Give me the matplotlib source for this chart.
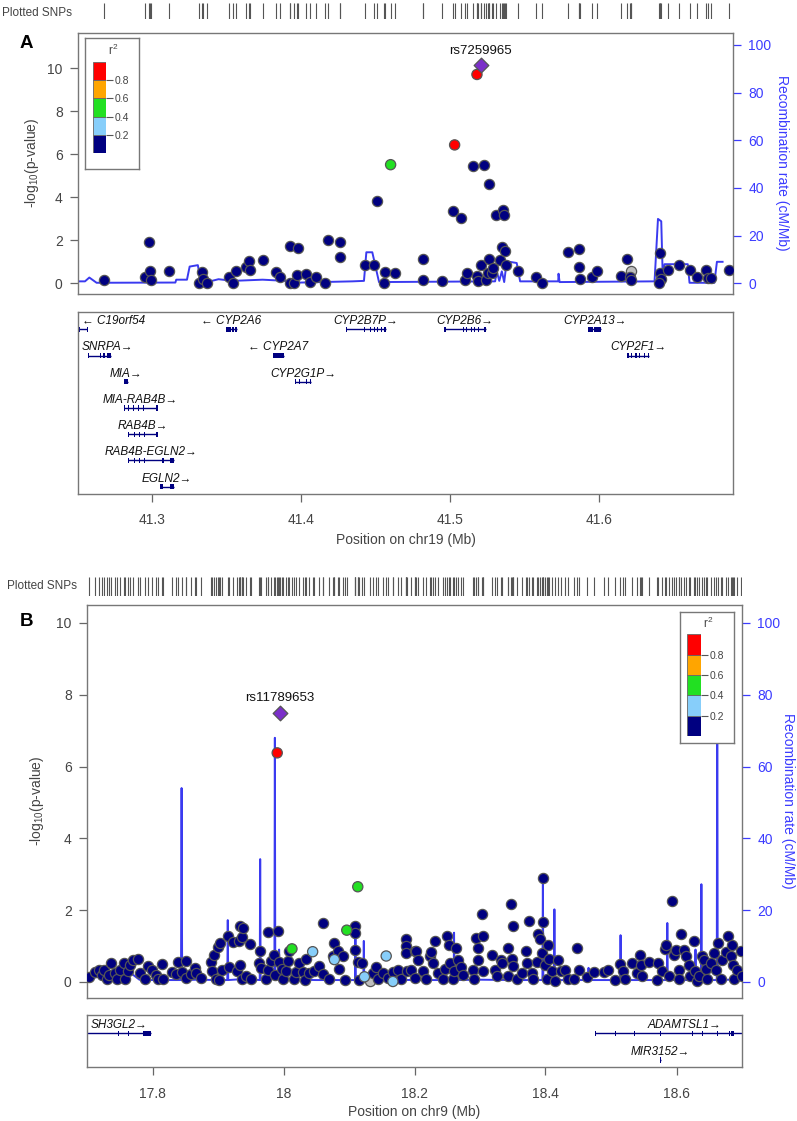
import matplotlib
matplotlib.use('Agg')
import matplotlib.pyplot as plt
import numpy as np
from matplotlib.patches import Rectangle
from matplotlib.ticker import FuncFormatter

plt.rcParams['font.family'] = ['Liberation Sans', 'DejaVu Sans']
plt.rcParams['mathtext.fontset'] = 'custom'
plt.rcParams['mathtext.rm'] = 'Liberation Sans'
plt.rcParams['mathtext.it'] = 'Liberation Sans:italic'

# ---------------- Panel A: chr19 ----------------
a_pos = [41.2674, 41.2953, 41.2975, 41.2986, 41.2993, 41.3110, 41.3310, 41.3330, 41.3340, 41.3368,
         41.3517, 41.3540, 41.3560, 41.3630, 41.3647, 41.3656, 41.3740, 41.3830, 41.3860, 41.3924,
         41.3926, 41.3954, 41.3970, 41.3980, 41.4030, 41.4060, 41.4098, 41.4160, 41.4180, 41.4258,
         41.4262, 41.4428, 41.4490, 41.4510, 41.4560, 41.4557, 41.4628, 41.4818, 41.4818, 41.4945,
         41.5017, 41.5075, 41.5097, 41.5110, 41.5153, 41.5180, 41.5190, 41.5210, 41.5226, 41.5240,
         41.5253, 41.5264, 41.5264, 41.5280, 41.5290, 41.5306, 41.5335, 41.5346, 41.5356, 41.5364,
         41.5369, 41.5376, 41.5458, 41.5574, 41.5614, 41.5793, 41.5865, 41.5867, 41.5873, 41.5950,
         41.5987, 41.6146, 41.6190, 41.6208, 41.6217, 41.6407, 41.6407, 41.6414, 41.6403, 41.6463,
         41.6534, 41.6608, 41.6659, 41.6719, 41.6730, 41.6752, 41.6875]
a_logp = [0.16, 0.28, 1.90, 0.59, 0.13, 0.59, 0.03, 0.51, 0.20, 0.03,
          0.28, 0.03, 0.59, 0.75, 1.03, 0.62, 1.06, 0.53, 0.31, 1.72,
          0.03, 0.03, 0.37, 1.62, 0.44, 0.05, 0.28, 0.03, 2.03, 1.90,
          1.24, 0.86, 0.84, 3.85, 0.53, 0.03, 0.47, 1.12, 0.17, 0.10,
          3.36, 3.05, 0.17, 0.47, 5.44, 0.36, 0.12, 0.83, 5.52, 0.14,
          0.50, 4.60, 1.14, 0.50, 0.69, 3.19, 1.06, 1.71, 3.39, 3.20,
          1.49, 0.83, 0.56, 0.28, 0.03, 1.45, 1.58, 0.75, 0.20, 0.31,
          0.56, 0.36, 1.14, 0.28, 0.16, 1.40, 0.50, 0.20, 0.03, 0.61,
          0.84, 0.64, 0.28, 0.61, 0.23, 0.23, 0.64]
# SNPs with r2 above the lowest bin (nan = no LD information)
a_ld_pos = [41.6217, 41.4600, 41.5030, 41.5180]
a_ld_logp = [0.56, 5.52, 6.44, 9.72]
a_ld_r2 = [np.nan, 0.5, 0.9, 0.9]
a_lead = ('rs7259965', 41.5206, 10.15)

a_rec_pos = [41.2500, 41.2547, 41.2576, 41.2625, 41.3154, 41.3160, 41.3232, 41.3250, 41.3305, 41.3317,
             41.3361, 41.3444, 41.3540, 41.3740, 41.3897, 41.3930, 41.4343, 41.4421, 41.4437, 41.4477,
             41.4495, 41.4522, 41.5302, 41.5313, 41.5330, 41.5347, 41.5363, 41.5380, 41.5447, 41.5470,
             41.5726, 41.5728, 41.5735, 41.6373, 41.6396, 41.6418, 41.6429, 41.6440, 41.6596, 41.6608,
             41.6775, 41.6792, 41.6830]
a_rec_rate = [0.8, 0.8, 2.4, 0.2, 0.3, 1.5, 1.5, 7.0, 7.6, 3.5,
              0.4, 1.7, 1.0, 1.5, 1.0, 0.2, 0.8, 1.0, 13.0, 13.0,
              8.0, 0.5, 0.8, 5.0, 1.0, 5.0, 0.5, 9.2, 8.5, 0.8,
              0.8, 4.0, 0.5, 0.8, 27.0, 26.0, 0.5, 8.0, 8.0, 0.2,
              0.2, 9.0, 9.0]

a_gene_names = ['C19orf54', 'SNRPA', 'MIA', 'MIA-RAB4B', 'RAB4B', 'RAB4B-EGLN2', 'EGLN2',
                'CYP2A6', 'CYP2A7', 'CYP2G1P', 'CYP2B7P', 'CYP2B6', 'CYP2A13', 'CYP2F1']
a_gene_start = [41.2502, 41.2569, 41.2808, 41.2808, 41.2837, 41.2837, 41.3049,
                41.3495, 41.3807, 41.3959, 41.4298, 41.4961, 41.5927, 41.6190]
a_gene_end = [41.2562, 41.2719, 41.2835, 41.3031, 41.3031, 41.3145, 41.3145,
              41.3566, 41.3886, 41.4064, 41.4566, 41.5240, 41.6016, 41.6333]
a_gene_strand = ['-', '+', '+', '+', '+', '+', '+', '-', '-', '+', '+', '+', '+', '+']
a_gene_row = [1, 2, 3, 4, 5, 6, 7, 1, 2, 3, 1, 1, 1, 2]
a_gene_exons = [
    [(41.2502, 41.2512), (41.2558, 41.2562)],
    [(41.2569, 41.2572), (41.2648, 41.2652), (41.2670, 41.2674), (41.2698, 41.2719)],
    [(41.2808, 41.2835)],
    [(41.2808, 41.2812), (41.2833, 41.2837), (41.2868, 41.2872), (41.2903, 41.2907), (41.2938, 41.2942), (41.3027, 41.3031)],
    [(41.2837, 41.2841), (41.2873, 41.2877), (41.2908, 41.2912), (41.2943, 41.2947), (41.3027, 41.3031)],
    [(41.2837, 41.2841), (41.2873, 41.2877), (41.2908, 41.2912), (41.2943, 41.2947), (41.3065, 41.3075), (41.3120, 41.3145)],
    [(41.3049, 41.3072), (41.3120, 41.3145)],
    [(41.3495, 41.3526), (41.3532, 41.3546), (41.3552, 41.3566)],
    [(41.3807, 41.3886)],
    [(41.3959, 41.3966), (41.3982, 41.3988), (41.4032, 41.4038), (41.4056, 41.4064)],
    [(41.4298, 41.4302), (41.4423, 41.4428), (41.4462, 41.4467), (41.4487, 41.4492), (41.4508, 41.4513), (41.4533, 41.4538), (41.4556, 41.4566)],
    [(41.4961, 41.4965), (41.5083, 41.5088), (41.5108, 41.5113), (41.5138, 41.5143), (41.5158, 41.5163), (41.5188, 41.5193), (41.5228, 41.5240)],
    [(41.5927, 41.5960), (41.5966, 41.6016)],
    [(41.6190, 41.6196), (41.6212, 41.6218), (41.6245, 41.6258), (41.6266, 41.6274), (41.6302, 41.6308), (41.6327, 41.6333)],
]

# ---------------- Panel B: chr9 ----------------
b_pos = [17.7026, 17.7127, 17.7178, 17.7230, 17.7255, 17.7306, 17.7340, 17.7370, 17.7424, 17.7460,
         17.7510, 17.7560, 17.7587, 17.7628, 17.7664, 17.7704, 17.7780, 17.7816, 17.7880, 17.7934,
         17.7995, 17.8047, 17.8088, 17.8138, 17.8158, 17.8291, 17.8352, 17.8393, 17.8455, 17.8505,
         17.8505, 17.8582, 17.8648, 17.8669, 17.8735, 17.8890, 17.8904, 17.8940, 17.8965, 17.9006,
         17.9027, 17.9057, 17.9016, 17.9159, 17.9170, 17.9230, 17.9297, 17.9322, 17.9333, 17.9333,
         17.9363, 17.9383, 17.9373, 17.9424, 17.9485, 17.9500, 17.9628, 17.9638, 17.9653, 17.9731,
         17.9756, 17.9756, 17.9806, 17.9857, 17.9873, 17.9909, 17.9934, 17.9975, 17.9996, 18.0037,
         18.0062, 18.0088, 18.0165, 18.0190, 18.0242, 18.0292, 18.0344, 18.0333, 18.0394, 18.0470,
         18.0547, 18.0598, 18.0609, 18.0700, 18.0752, 18.0767, 18.0828, 18.0844, 18.0915, 18.0946,
         18.1084, 18.1099, 18.1099, 18.1134, 18.1160, 18.1200, 18.1364, 18.1415, 18.1440, 18.1517,
         18.1594, 18.1670, 18.1747, 18.1798, 18.1864, 18.1864, 18.1864, 18.1885, 18.1951, 18.2002,
         18.2002, 18.2028, 18.2053, 18.2130, 18.2181, 18.2232, 18.2257, 18.2283, 18.2319, 18.2359,
         18.2436, 18.2461, 18.2502, 18.2523, 18.2538, 18.2589, 18.2604, 18.2640, 18.2666, 18.2717,
         18.2742, 18.2895, 18.2910, 18.2946, 18.2962, 18.2962, 18.3023, 18.3049, 18.3049, 18.3186,
         18.3227, 18.3253, 18.3319, 18.3340, 18.3421, 18.3431, 18.3472, 18.3482, 18.3508, 18.3508,
         18.3559, 18.3635, 18.3697, 18.3712, 18.3748, 18.3789, 18.3814, 18.3865, 18.3880, 18.3916,
         18.3957, 18.3967, 18.3952, 18.3993, 18.4018, 18.4044, 18.4054, 18.4095, 18.4146, 18.4197,
         18.4238, 18.4299, 18.4350, 18.4442, 18.4478, 18.4514, 18.4631, 18.4733, 18.4886, 18.4952,
         18.5065, 18.5141, 18.5177, 18.5218, 18.5320, 18.5397, 18.5448, 18.5463, 18.5473, 18.5585,
         18.5703, 18.5718, 18.5779, 18.5820, 18.5841, 18.5882, 18.5933, 18.5958, 18.5994, 18.6035,
         18.6035, 18.6075, 18.6112, 18.6147, 18.6188, 18.6213, 18.6264, 18.6290, 18.6315, 18.6351,
         18.6392, 18.6417, 18.6443, 18.6469, 18.6520, 18.6571, 18.6596, 18.6637, 18.6673, 18.6698,
         18.6749, 18.6790, 18.6826, 18.6841, 18.6862, 18.6877, 18.6928, 18.6979, 18.6994]
b_logp = [0.14, 0.27, 0.33, 0.20, 0.34, 0.08, 0.18, 0.53, 0.25, 0.07,
          0.33, 0.53, 0.07, 0.30, 0.46, 0.60, 0.64, 0.25, 0.07, 0.44,
          0.33, 0.18, 0.07, 0.49, 0.08, 0.27, 0.21, 0.55, 0.27, 0.57,
          0.12, 0.23, 0.38, 0.25, 0.12, 0.55, 0.29, 0.76, 0.08, 0.98,
          1.09, 0.33, 0.04, 1.29, 0.42, 1.11, 0.30, 1.14, 1.55, 0.48,
          1.26, 1.51, 0.07, 0.16, 1.06, 0.08, 0.53, 0.86, 0.39, 0.07,
          1.39, 0.33, 0.57, 0.75, 0.18, 1.43, 0.55, 0.36, 0.07, 0.30,
          0.57, 0.86, 0.07, 0.27, 0.53, 0.27, 0.64, 0.05, 0.25, 0.30,
          0.44, 1.65, 0.23, 0.07, 0.72, 1.07, 0.86, 0.36, 0.72, 0.05,
          1.57, 1.37, 0.90, 0.55, 0.05, 0.53, 0.25, 0.42, 0.07, 0.25,
          0.11, 0.27, 0.34, 0.07, 1.20, 1.00, 0.79, 0.30, 0.33, 0.86,
          0.11, 0.86, 0.62, 0.30, 0.07, 0.72, 0.83, 0.53, 1.14, 0.25,
          0.07, 0.36, 1.29, 1.04, 0.53, 0.07, 0.30, 0.95, 0.62, 0.42,
          0.18, 0.34, 0.07, 1.23, 0.95, 0.62, 1.88, 1.29, 0.30, 0.76,
          0.33, 0.16, 0.60, 0.53, 0.95, 0.16, 2.18, 0.64, 1.57, 0.44,
          0.08, 0.25, 0.86, 0.53, 1.69, 0.25, 0.07, 0.55, 1.32, 1.18,
          1.67, 2.90, 0.81, 0.48, 0.07, 1.04, 0.64, 0.30, 0.02, 0.60,
          0.30, 0.34, 0.08, 0.08, 0.95, 0.33, 0.14, 0.27, 0.27, 0.33,
          0.05, 0.51, 0.30, 0.08, 0.53, 0.25, 0.74, 0.48, 0.16, 0.55,
          0.05, 0.53, 0.30, 0.92, 1.04, 0.16, 2.25, 0.74, 0.88, 0.34,
          0.07, 1.32, 0.90, 0.72, 0.48, 0.16, 1.14, 0.30, 0.02, 0.16,
          0.72, 0.60, 0.36, 0.08, 0.53, 0.81, 0.33, 1.07, 0.07, 0.62,
          0.83, 1.28, 0.72, 1.04, 0.48, 0.08, 0.34, 0.86, 0.16]
b_ld_pos = [18.1313, 18.0445, 18.0777, 18.1236, 18.1568, 18.1670, 18.0129, 18.0966, 18.1134, 17.9904]
b_ld_logp = [0.01, 0.84, 0.62, 0.14, 0.72, 0.01, 0.92, 1.44, 2.65, 6.38]
b_ld_r2 = [np.nan, 0.3, 0.3, 0.3, 0.3, 0.3, 0.5, 0.5, 0.5, 0.9]
b_lead = ('rs11789653', 17.9940, 7.50)

b_rec_pos = [17.700, 17.720, 17.740, 17.757, 17.770, 17.780, 17.800, 17.8435, 17.8444, 17.8453,
             17.870, 17.900, 17.9142, 17.9149, 17.9156, 17.940, 17.9637, 17.9644, 17.9651, 17.980,
             17.9861, 17.9868, 17.9875, 17.9928, 17.9933, 17.9940, 18.020, 18.050, 18.1091, 18.1098,
             18.1105, 18.1219, 18.1226, 18.1233, 18.150, 18.200, 18.2597, 18.2604, 18.2611, 18.300,
             18.350, 18.3953, 18.3960, 18.3967, 18.4129, 18.4136, 18.4143, 18.4650, 18.4657, 18.4664,
             18.5139, 18.5146, 18.5153, 18.5853, 18.5860, 18.5867, 18.6283, 18.6290, 18.6297, 18.6373,
             18.6380, 18.6387, 18.6615, 18.6622, 18.6629, 18.680, 18.700]
b_rec_rate = [0.8, 1.5, 0.8, 2.5, 2.0, 0.6, 0.5, 0.5, 54.0, 0.5,
              0.6, 0.5, 0.5, 17.2, 0.5, 0.8, 0.5, 34.2, 0.5, 0.8,
              0.8, 68.0, 0.8, 0.8, 9.0, 0.8, 0.6, 0.5, 0.5, 15.0,
              0.5, 0.5, 11.4, 0.5, 0.6, 0.5, 0.5, 13.7, 0.5, 0.6,
              0.5, 0.5, 29.0, 0.5, 0.5, 20.2, 0.5, 0.5, 3.9, 0.5,
              0.5, 13.0, 0.5, 0.5, 16.4, 0.5, 0.5, 9.0, 0.5, 0.5,
              27.2, 0.5, 0.5, 95.0, 0.5, 0.6, 0.5]

b_gene_names = ['SH3GL2', 'ADAMTSL1', 'MIR3152']
b_gene_start = [17.650, 18.4758, 18.5750]
b_gene_end = [17.7980, 18.7500, 18.5756]
b_gene_strand = ['+', '+', '+']
b_gene_row = [1, 1, 2]
b_gene_exons = [
    [(17.7466, 17.7472), (17.7619, 17.7625), (17.7858, 17.7980)],
    [(18.4755, 18.4761), (18.5061, 18.5067), (18.5352, 18.5358), (18.5750, 18.5756), (18.6236, 18.6242),
     (18.6389, 18.6395), (18.6619, 18.6625), (18.6797, 18.6803), (18.6837, 18.6843), (18.6867, 18.6873)],
    [(18.5750, 18.5756)],
]

LD_EDGES = [0.0, 0.2, 0.4, 0.6, 0.8, 1.0]
LD_COLORS = ['#000080', '#87CEFA', '#22E022', '#FFA500', '#FF0000']
REC_BLUE = '#3a3af0'
AXIS_BLUE = '#3b3bff'
GRAY_TXT = '#444444'
NAVY = '#000080'

W, H = 797, 1121
fig = plt.figure(figsize=(W / 100, H / 100), dpi=100)


def rect(x0, y0, x1, y1):
    return [x0 / W, 1 - y1 / H, (x1 - x0) / W, (y1 - y0) / H]


def ld_color(r):
    if np.isnan(r):
        return '#BEBEBE'
    i = int(np.searchsorted(LD_EDGES, r, side='right')) - 1
    return LD_COLORS[min(i, len(LD_COLORS) - 1)]


def add_legend(box, bars):
    fr = fig.add_axes(rect(*box), zorder=10)
    fr.set_facecolor('white')
    fr.set_xticks([]); fr.set_yticks([])
    for s in fr.spines.values():
        s.set_color('#777777'); s.set_linewidth(1)
    fr.text(0.52, 1 - 12 / (box[3] - box[1]), 'r$^2$', transform=fr.transAxes,
            ha='center', va='center', fontsize=8.5, color=GRAY_TXT)
    lg = fig.add_axes(rect(*bars), zorder=11)
    lg.bar(0.5, np.diff(LD_EDGES), bottom=LD_EDGES[:-1], width=1, color=LD_COLORS,
           edgecolor='#666666', linewidth=0.6)
    lg.set_xlim(0, 1); lg.set_ylim(0, 1)
    lg.set_xticks([])
    lg.set_yticks(LD_EDGES[1:-1])
    lg.yaxis.tick_right()
    lg.tick_params(axis='y', length=5, width=0.8, color='#555555', pad=1.5,
                   labelsize=7.5, labelcolor=GRAY_TXT)
    for s in lg.spines.values():
        s.set_visible(False)


def draw_panel(L, pos, logp, ld_pos, ld_logp, ld_r2, lead, rec_pos, rec_rate,
               names, starts, ends, strands, rows, exons):
    xlim, ylim = L['xlim'], L['ylim']

    # plotted SNPs rug
    rx = fig.add_axes(rect(*L['rug']))
    all_pos = list(pos) + list(ld_pos) + [lead[1]]
    rx.vlines(all_pos, 0, 1, color='#555555', linewidth=0.8)
    rx.set_xlim(xlim); rx.set_ylim(0, 1)
    rx.axis('off')
    fig.text(L['rug_txt'][0] / W, 1 - L['rug_txt'][1] / H, 'Plotted SNPs',
             ha='left', va='center', fontsize=8.5, color=GRAY_TXT)

    # association plot
    ax = fig.add_axes(rect(*L['main']))
    ax.set_xlim(xlim); ax.set_ylim(ylim)
    scale = ylim[1] / 105.0
    ax.plot(rec_pos, np.array(rec_rate) * scale, color=REC_BLUE, lw=1.4, zorder=1)
    order = sorted(range(len(ld_r2)), key=lambda i: -1 if np.isnan(ld_r2[i]) else ld_r2[i])
    gray_first = [i for i in order if np.isnan(ld_r2[i])]
    rest = [i for i in order if not np.isnan(ld_r2[i])]
    kw = dict(s=54, edgecolors='#555555', linewidths=0.9)
    ax.scatter([ld_pos[i] for i in gray_first], [ld_logp[i] for i in gray_first],
               c=[ld_color(ld_r2[i]) for i in gray_first], zorder=3, **kw)
    ax.scatter(pos, logp, c=LD_COLORS[0], zorder=4, **kw)
    ax.scatter([ld_pos[i] for i in rest], [ld_logp[i] for i in rest],
               c=[ld_color(ld_r2[i]) for i in rest], zorder=5, **kw)
    ax.scatter([lead[1]], [lead[2]], marker='D', s=56, c='#7B2FC9',
               edgecolors='#555555', linewidths=0.9, zorder=6)
    ax.annotate(lead[0], (lead[1], lead[2]), xytext=(0, 6), textcoords='offset points',
                ha='center', va='bottom', fontsize=9.5, color='#111111')
    ax.set_xticks([])
    ax.set_yticks(range(0, 11, 2))
    ax.tick_params(axis='y', length=6, width=0.9, color='#666666', pad=5,
                   labelsize=10, labelcolor=GRAY_TXT)
    for s in ax.spines.values():
        s.set_color('#777777'); s.set_linewidth(1)
    sec = ax.secondary_yaxis('right', functions=(lambda y: y / scale, lambda r: r * scale))
    sec.set_yticks(range(0, 101, 20))
    sec.tick_params(axis='y', length=6, width=0.9, color=AXIS_BLUE, pad=5,
                    labelsize=10, labelcolor=AXIS_BLUE)
    sec.spines['right'].set_visible(False)
    fig.text(L['ylab'][0] / W, 1 - L['ylab'][1] / H, '-log$_{10}$(p-value)', rotation=90,
             ha='center', va='center', fontsize=10, color=GRAY_TXT)
    fig.text(L['rlab'][0] / W, 1 - L['rlab'][1] / H, 'Recombination rate (cM/Mb)', rotation=-90,
             ha='center', va='center', fontsize=10, color=AXIS_BLUE)
    fig.text(L['letter'][0] / W, 1 - L['letter'][1] / H, L['name'], ha='left', va='center',
             fontsize=13.5, fontweight='bold', color='black')

    # gene track
    gx = fig.add_axes(rect(*L['genes']))
    gx.set_xlim(xlim); gx.set_ylim(L['gene_ylim'])
    minw = (xlim[1] - xlim[0]) / 655 * 1.2
    labels = []
    for name, st, en, strand, row, ex in zip(names, starts, ends, strands, rows, exons):
        gx.plot([st, en], [row, row], color=NAVY, lw=1.0, solid_capstyle='butt')
        for es, ee in ex:
            gx.add_patch(Rectangle((es, row - 0.1), max(ee - es, minw), 0.2,
                                   facecolor=NAVY, edgecolor='none'))
        txt = name + '\u2192' if strand == '+' else '\u2190 ' + name
        labels.append(gx.text((st + en) / 2, row - 0.31, txt, ha='center', va='center',
                              fontsize=8.5, style='italic', color='#111111'))
    gx.set_yticks([])
    gx.set_xticks(L['xticks'])
    gx.xaxis.set_major_formatter(FuncFormatter(lambda v, p: '%g' % round(v, 3)))
    gx.tick_params(axis='x', length=6, width=0.9, color='#666666', pad=8,
                   labelsize=10, labelcolor=GRAY_TXT)
    for s in gx.spines.values():
        s.set_color('#777777'); s.set_linewidth(1)
    fig.text(((L['main'][0] + L['main'][2]) / 2) / W, 1 - L['xlab_y'] / H, L['xlabel'],
             ha='center', va='center', fontsize=10, color=GRAY_TXT)

    add_legend(L['leg_box'], L['leg_bars'])
    return gx, labels


layout_a = dict(name='A', xlim=(41.25, 41.69), ylim=(-0.5, 11.65),
                rug=(78, 3, 733, 19), rug_txt=(2, 13),
                main=(78, 33, 733, 294), genes=(78, 311.7, 733, 494), gene_ylim=(7.28, 0.33),
                xticks=[41.3, 41.4, 41.5, 41.6], xlabel='Position on chr19 (Mb)', xlab_y=540,
                ylab=(32, 163), rlab=(782, 163), letter=(20, 44),
                leg_box=(85, 38.3, 139.3, 169.3), leg_bars=(92.7, 61.7, 106, 153.3))
layout_b = dict(name='B', xlim=(17.70, 18.70), ylim=(-0.45, 10.5),
                rug=(87, 577, 742, 596), rug_txt=(7, 586),
                main=(87, 605, 742, 998), genes=(87, 1015, 742, 1067.3), gene_ylim=(2.28, 0.30),
                xticks=[17.8, 18.0, 18.2, 18.4, 18.6], xlabel='Position on chr9 (Mb)', xlab_y=1112,
                ylab=(37, 801), rlab=(788, 801), letter=(20, 621),
                leg_box=(680, 611.7, 734.3, 742.7), leg_bars=(687.3, 634.3, 700.7, 736))

gxa, la = draw_panel(layout_a, a_pos, a_logp, a_ld_pos, a_ld_logp, a_ld_r2, a_lead,
                     a_rec_pos, a_rec_rate, a_gene_names, a_gene_start, a_gene_end,
                     a_gene_strand, a_gene_row, a_gene_exons)
gxb, lb = draw_panel(layout_b, b_pos, b_logp, b_ld_pos, b_ld_logp, b_ld_r2, b_lead,
                     b_rec_pos, b_rec_rate, b_gene_names, b_gene_start, b_gene_end,
                     b_gene_strand, b_gene_row, b_gene_exons)

# keep gene labels inside the gene track box
fig.canvas.draw()
for gx, labels in [(gxa, la), (gxb, lb)]:
    axbb = gx.get_window_extent()
    for t in labels:
        bb = t.get_window_extent()
        shift = 0
        if bb.x0 < axbb.x0 + 4:
            shift = axbb.x0 + 4 - bb.x0
        elif bb.x1 > axbb.x1 - 4:
            shift = axbb.x1 - 4 - bb.x1
        if shift:
            xd, yd = gx.transData.transform(t.get_position())
            t.set_position(gx.transData.inverted().transform((xd + shift, yd)))

fig.savefig('out.png', dpi=100)
